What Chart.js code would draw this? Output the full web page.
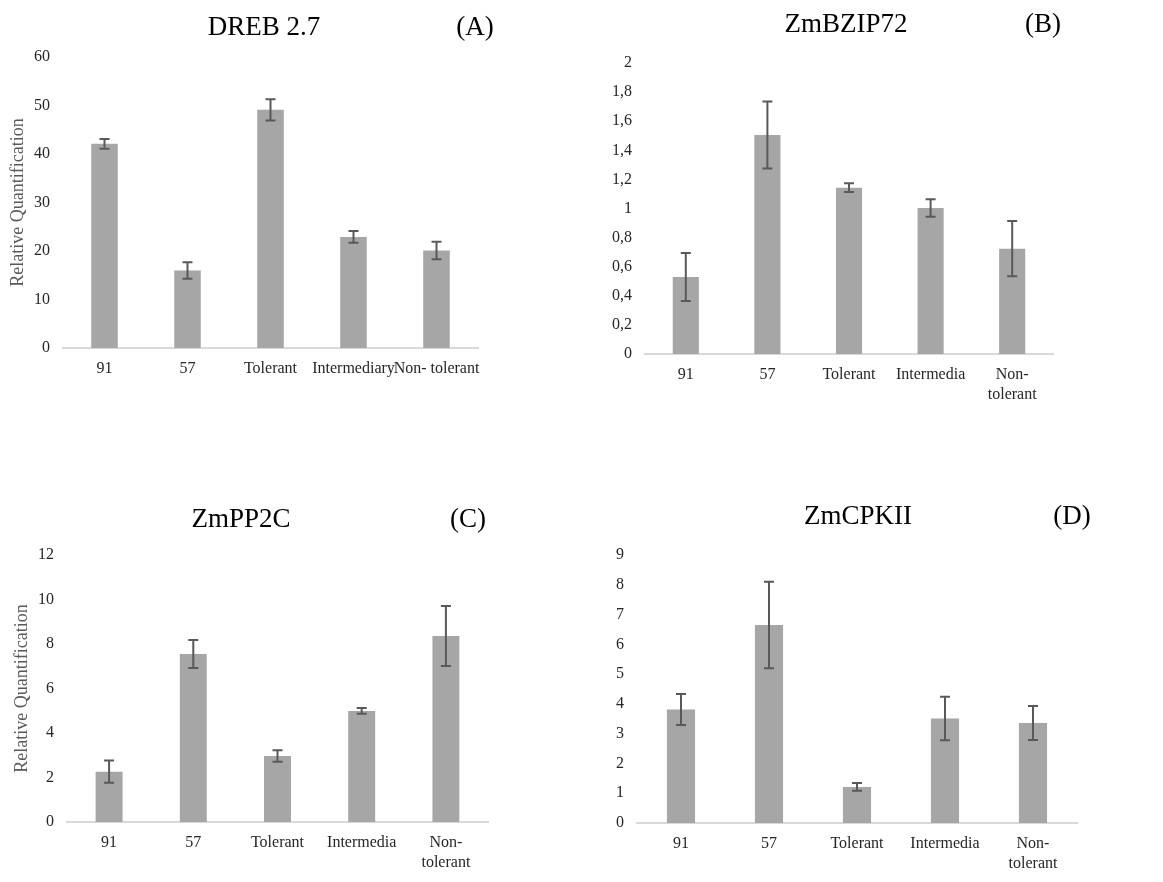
<!DOCTYPE html>
<html>
<head>
<meta charset="utf-8">
<script src="https://cdn.jsdelivr.net/npm/chart.js@4.4.1/dist/chart.umd.min.js"></script>
<style>
  body { margin: 0; background: #fff; }
  .panel { position: absolute; }
</style>
</head>
<body>
<div class="panel" style="left:0;top:0;width:580px;height:400px"><canvas id="chartA"></canvas></div>
<div class="panel" style="left:580px;top:0;width:583px;height:400px"><canvas id="chartB"></canvas></div>
<div class="panel" style="left:0;top:430px;width:580px;height:452px"><canvas id="chartC"></canvas></div>
<div class="panel" style="left:580px;top:430px;width:583px;height:452px"><canvas id="chartD"></canvas></div>
<script>
// categories
const labelsA = ["91", "57", "Tolerant", "Intermediary", "Non- tolerant"];
const labelsBCD = ["91", "57", "Tolerant", "Intermedia", ["Non-", "tolerant"]];

// relative quantification, mean and error
const dreb27 = [42.1, 16.0, 49.1, 22.9, 20.1];
const dreb27Err = [1.0, 1.7, 2.2, 1.2, 1.8];

const zmbzip72 = [0.53, 1.505, 1.143, 1.003, 0.724];
const zmbzip72Err = [0.165, 0.23, 0.03, 0.06, 0.19];

const zmpp2c = [2.26, 7.55, 2.97, 4.99, 8.36];
const zmpp2cErr = [0.5, 0.63, 0.26, 0.13, 1.35];

const zmcpkii = [3.81, 6.65, 1.21, 3.51, 3.36];
const zmcpkiiErr = [0.52, 1.45, 0.13, 0.73, 0.57];

const SERIF = "'Liberation Serif', 'Times New Roman', serif";

const errorBars = {
  id: "errorBars",
  afterDatasetsDraw(chart) {
    const ds = chart.data.datasets[0];
    const meta = chart.getDatasetMeta(0);
    const y = chart.scales.y;
    const ctx = chart.ctx;
    ctx.save();
    ctx.strokeStyle = "#595959";
    ctx.lineWidth = 2;
    meta.data.forEach((bar, i) => {
      const hi = y.getPixelForValue(ds.data[i] + ds.errors[i]);
      const lo = y.getPixelForValue(ds.data[i] - ds.errors[i]);
      ctx.beginPath();
      ctx.moveTo(bar.x, hi); ctx.lineTo(bar.x, lo);
      ctx.moveTo(bar.x - 5, hi); ctx.lineTo(bar.x + 5, hi);
      ctx.moveTo(bar.x - 5, lo); ctx.lineTo(bar.x + 5, lo);
      ctx.stroke();
    });
    ctx.restore();
  }
};

const panelTitle = {
  id: "panelTitle",
  afterDraw(chart, args, opts) {
    const ctx = chart.ctx;
    ctx.save();
    ctx.fillStyle = "#000";
    ctx.font = "27px " + SERIF;
    ctx.textAlign = "center";
    ctx.textBaseline = "alphabetic";
    ctx.fillText(opts.text, opts.x, opts.baseline);
    ctx.fillText(opts.letter, opts.letterX, opts.baseline);
    ctx.restore();
  }
};

function makeChart(id, labels, values, errors, cfg) {
  new Chart(document.getElementById(id), {
    type: "bar",
    data: {
      labels: labels,
      datasets: [{
        data: values,
        errors: errors,
        backgroundColor: "#a6a6a6",
        barPercentage: 0.32,
        categoryPercentage: 1
      }]
    },
    options: {
      responsive: true,
      maintainAspectRatio: false,
      animation: false,
      layout: { padding: { top: cfg.top, right: cfg.right, left: 0, bottom: 0 } },
      plugins: {
        legend: { display: false },
        tooltip: { enabled: false },
        panelTitle: cfg.title
      },
      scales: {
        x: {
          grid: { display: false, drawTicks: false },
          border: { display: true, color: "#d9d9d9", width: 2 },
          ticks: {
            color: "#262626", padding: 10, maxRotation: 0, minRotation: 0, autoSkip: false,
            font: { family: SERIF, size: 16, lineHeight: 1.3 }
          },
          afterFit: (s) => { s.height = cfg.xHeight; }
        },
        y: {
          min: 0,
          max: cfg.max,
          grid: { display: false, drawTicks: false },
          border: { display: false },
          ticks: {
            stepSize: cfg.step,
            color: "#262626",
            padding: 13,
            font: { family: SERIF, size: 16 },
            callback: (v) => String(Math.round(v * 10) / 10).replace(".", ",")
          },
          title: {
            display: !!cfg.yTitle,
            text: "Relative Quantification",
            color: "#595959",
            padding: { top: cfg.yTitlePad || 0, bottom: 0 },
            font: { family: SERIF, size: 18 }
          },
          afterFit: (s) => { s.width = cfg.left; }
        }
      }
    },
    plugins: [errorBars, panelTitle]
  });
}

makeChart("chartA", labelsA, dreb27, dreb27Err, {
  top: 57, right: 102, left: 63, xHeight: 52, max: 60, step: 10, yTitle: true, yTitlePad: 7,
  title: { text: "DREB 2.7", letter: "(A)", x: 264, letterX: 475, baseline: 35 }
});
makeChart("chartB", labelsBCD, zmbzip72, zmbzip72Err, {
  top: 63, right: 110, left: 65, xHeight: 46, max: 2, step: 0.2, yTitle: false,
  title: { text: "ZmBZIP72", letter: "(B)", x: 266, letterX: 463, baseline: 32 }
});
makeChart("chartC", labelsBCD, zmpp2c, zmpp2cErr, {
  top: 125, right: 92, left: 67, xHeight: 60, max: 12, step: 2, yTitle: true, yTitlePad: 11,
  title: { text: "ZmPP2C", letter: "(C)", x: 241, letterX: 468, baseline: 97 }
});
makeChart("chartD", labelsBCD, zmcpkii, zmcpkiiErr, {
  top: 125, right: 86, left: 57, xHeight: 59, max: 9, step: 1, yTitle: false,
  title: { text: "ZmCPKII", letter: "(D)", x: 278, letterX: 492, baseline: 94 }
});
</script>
</body>
</html>
